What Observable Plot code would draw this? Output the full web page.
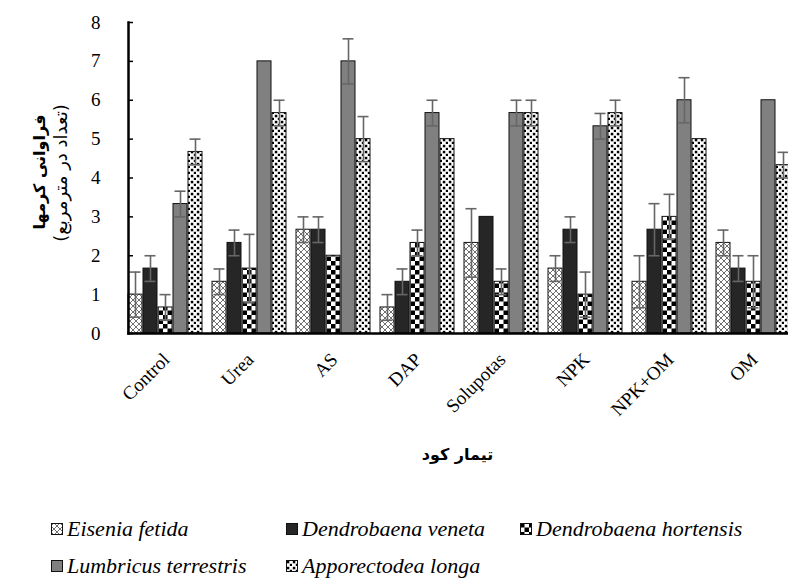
<!DOCTYPE html>
<html>
<head>
<meta charset="utf-8">
<script src="https://cdn.jsdelivr.net/npm/d3@7"></script>
<script src="https://cdn.jsdelivr.net/npm/@observablehq/plot@0.6"></script>
<style>
  html, body { margin: 0; padding: 0; background: #fff; }
  #wrap { position: relative; width: 788px; }
  .legend { position: relative; height: 68px; font-family: "Liberation Serif", "Times New Roman", serif; font-style: italic; font-size: 22px; color: #000; }
  .item { position: absolute; display: flex; align-items: center; height: 24px; white-space: nowrap; }
  .item svg { margin-right: 4px; }
</style>
</head>
<body>
<div id="wrap"></div>
<script>
const treatments = ["Control", "Urea", "AS", "DAP", "Solupotas", "NPK", "NPK+OM", "OM"];
const species = ["Eisenia fetida", "Dendrobaena veneta", "Dendrobaena hortensis", "Lumbricus terrestris", "Apporectodea longa"];

// mean abundance per species across treatments
const efValues = [1.0, 1.33, 2.67, 0.67, 2.33, 1.67, 1.33, 2.33];
const dvValues = [1.67, 2.33, 2.67, 1.33, 3.0, 2.67, 2.67, 1.67];
const dhValues = [0.67, 1.67, 2.0, 2.33, 1.33, 1.0, 3.0, 1.33];
const ltValues = [3.33, 7.0, 7.0, 5.67, 5.67, 5.33, 6.0, 6.0];
const alValues = [4.67, 5.67, 5.0, 5.0, 5.67, 5.67, 5.0, 4.33];

// standard errors
const efErr = [0.58, 0.33, 0.33, 0.33, 0.88, 0.33, 0.67, 0.33];
const dvErr = [0.33, 0.33, 0.33, 0.33, 0, 0.33, 0.67, 0.33];
const dhErr = [0.33, 0.88, 0, 0.33, 0.33, 0.58, 0.58, 0.67];
const ltErr = [0.33, 0, 0.58, 0.33, 0.33, 0.33, 0.58, 0];
const alErr = [0.33, 0.33, 0.58, 0, 0.33, 0.33, 0, 0.33];

const yTicks = [0, 1, 2, 3, 4, 5, 6, 7, 8];
const yTitle = "فراوانی کرمها";
const ySubtitle = "(تعداد در مترمربع)";
const xTitle = "تیمار کود";

const fills = ["url(#p-ef)", "#262626", "url(#p-dh)", "#808080", "url(#p-al)"];

const valueSets = [efValues, dvValues, dhValues, ltValues, alValues];
const errSets = [efErr, dvErr, dhErr, ltErr, alErr];
const rows = [];
treatments.forEach((t, i) => {
  species.forEach((s, j) => {
    rows.push({treatment: t, species: s, value: valueSets[j][i], err: errSets[j][i]});
  });
});
const errRows = rows.filter(d => d.err > 0);

const errStroke = "#666666";
const faFont = "'DejaVu Sans', sans-serif";

const plot = Plot.plot({
  width: 788,
  height: 510,
  marginLeft: 118,
  marginRight: -11,
  marginTop: 22,
  marginBottom: 177,
  style: {fontFamily: "'Liberation Serif', 'Times New Roman', serif", background: "white", color: "black"},
  fx: {domain: treatments, paddingInner: 0.123, paddingOuter: 0.096, label: null, axis: null},
  x: {domain: species, paddingInner: 0.067, paddingOuter: 0, axis: null},
  y: {domain: [0, 8], axis: null},
  color: {domain: species, range: fills},
  marks: [
    Plot.axisY({ticks: yTicks, tickSize: -5, tickPadding: 33, fontSize: 19, label: null, tickFormat: d => String(d), strokeWidth: 1.5}),
    Plot.text(treatments, {fx: d => d, text: d => d, frameAnchor: "bottom", rotate: -45, textAnchor: "end", lineAnchor: "middle", dx: 1, dy: 23, fontSize: 19}),
    Plot.barY(rows, {fx: "treatment", x: "species", y: "value", fill: "species", stroke: "#111", strokeWidth: 1}),
    Plot.ruleX(errRows, {fx: "treatment", x: "species", y1: d => d.value - d.err, y2: d => d.value + d.err, stroke: errStroke, strokeWidth: 1.6}),
    Plot.tickY(errRows, {fx: "treatment", x: "species", y: d => d.value + d.err, stroke: errStroke, strokeWidth: 1.6, insetLeft: 1.5, insetRight: 1.5}),
    Plot.tickY(errRows, {fx: "treatment", x: "species", y: d => d.value - d.err, stroke: errStroke, strokeWidth: 1.6, insetLeft: 1.5, insetRight: 1.5}),
    Plot.frame({anchor: "bottom", facet: "super", stroke: "black", strokeWidth: 2.5}),
    Plot.frame({anchor: "left", facet: "super", stroke: "black", strokeWidth: 2.5}),
    Plot.text([xTitle], {facet: "super", frameAnchor: "bottom", textAnchor: "middle", dy: 126, dx: -2, fontSize: 16, fontWeight: "bold", fontFamily: faFont, text: d => d}),
    Plot.text([yTitle], {facet: "super", frameAnchor: "left", textAnchor: "middle", rotate: -90, dx: -89, dy: -6, fontSize: 16, fontWeight: "bold", fontFamily: faFont, text: d => d}),
    Plot.text([ySubtitle], {facet: "super", frameAnchor: "left", textAnchor: "middle", rotate: -90, dx: -67, dy: -5, fontSize: 18, fontFamily: faFont, text: d => d})
  ]
});

const defs = `
<defs>
  <pattern id="p-ef" patternUnits="userSpaceOnUse" width="6" height="6">
    <rect width="6" height="6" fill="white"/>
    <path d="M0,3 L3,0 L6,3 L3,6 Z" fill="none" stroke="#333" stroke-width="0.7"/>
  </pattern>
  <pattern id="p-dh" patternUnits="userSpaceOnUse" width="9" height="9">
    <rect width="9" height="9" fill="white"/>
    <rect x="0" y="0" width="4.5" height="4.5" fill="black"/>
    <rect x="4.5" y="4.5" width="4.5" height="4.5" fill="black"/>
  </pattern>
  <pattern id="p-al" patternUnits="userSpaceOnUse" width="6" height="6">
    <rect width="6" height="6" fill="white"/>
    <rect x="0.8" y="0.8" width="2.5" height="2.5" fill="black"/>
    <rect x="3.8" y="3.8" width="2.5" height="2.5" fill="black"/>
  </pattern>
</defs>`;
plot.insertAdjacentHTML("afterbegin", defs);

const wrap = document.getElementById("wrap");
wrap.appendChild(plot);

// legend
const legendPos = [
  {left: 51, top: 7}, {left: 286, top: 7}, {left: 520, top: 7},
  {left: 51, top: 44}, {left: 286, top: 44}
];
const legend = document.createElement("div");
legend.className = "legend";
species.forEach((s, j) => {
  const item = document.createElement("div");
  item.className = "item";
  item.style.left = legendPos[j].left + "px";
  item.style.top = legendPos[j].top + "px";
  item.innerHTML = `<svg width="12" height="12"><rect x="0.5" y="0.5" width="11" height="11" fill="${fills[j]}" stroke="#111" stroke-width="1"/></svg><span>${s}</span>`;
  legend.appendChild(item);
});
wrap.appendChild(legend);
</script>
</body>
</html>
